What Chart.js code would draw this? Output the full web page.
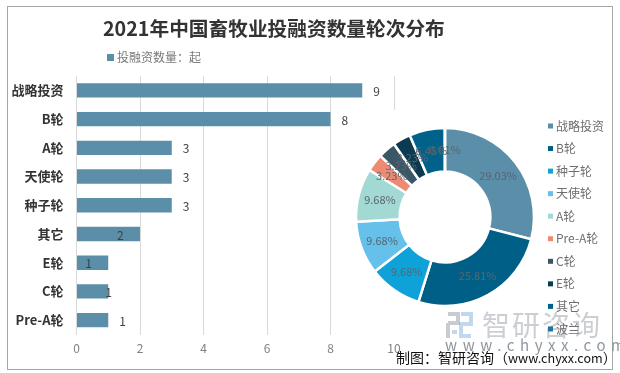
<!DOCTYPE html>
<html>
<head>
<meta charset="utf-8">
<script src="https://cdn.jsdelivr.net/npm/chart.js@4"></script>
<style>
  html, body { margin: 0; padding: 0; background: #fff; width: 620px; height: 373px; overflow: hidden; }
  .abs { position: absolute; white-space: nowrap; font-family: "Noto Sans CJK SC", "Noto Sans", sans-serif; }
  #frame { left: 7px; top: 6px; width: 604px; height: 362px; border: 1px solid #a6a6a6; }
  #title { left: 103px; top: 13px; font-size: 19.7px; line-height: 30px; font-weight: 700; color: #333; }
  #legendBox { left: 107px; top: 54px; width: 7px; height: 7px; background: #5b8ea8; }
  #legendText { left: 117px; top: 48px; font-size: 12px; line-height: 18px; color: #7a7a7a; }
  #barChart { left: 0; top: 0; }
  #pieWrap { position: absolute; left: 350px; top: 110px; width: 260px; height: 230px; background: #fff; }
  #wmText { left: 482px; top: 304px; font-size: 28px; line-height: 40px; letter-spacing: 2px; color: rgba(110,120,130,.36); }
  #wmAddr { left: 445px; top: 336px; font-size: 15px; line-height: 18px; letter-spacing: 5.6px; color: #8f979e; z-index: 5; }
  #wmLogo { position: absolute; left: 446px; top: 312px; }
  #source { left: 396px; top: 347px; font-size: 14px; line-height: 20px; color: #111; z-index: 6; }
  #source span { font-size: 12.6px; }
</style>
</head>
<body>
<canvas id="barChart" class="abs" width="620" height="373"></canvas>
<div id="pieWrap"><canvas id="pieChart" width="260" height="230"></canvas></div>
<div id="frame" class="abs"></div>
<div id="title" class="abs">2021年中国畜牧业投融资数量轮次分布</div>
<div id="legendBox" class="abs"></div>
<div id="legendText" class="abs">投融资数量：起</div>
<svg id="wmLogo" width="27" height="27" fill="none" stroke-width="4">
  <path d="M2 2H12V11H2M2 11V26" stroke="rgba(130,140,155,.45)"/>
  <path d="M15 2H25V12H15V24H25" stroke="rgba(120,170,215,.45)"/>
  <path d="M6 20H11" stroke="rgba(120,170,215,.45)"/>
</svg>
<div id="wmText" class="abs">智研咨询</div>
<div id="wmAddr" class="abs">www.chyxx.com</div>
<div id="source" class="abs">制图：智研咨询（<span>www.chyxx.com</span>）</div>

<script>
const barCategories = ["战略投资", "B轮", "A轮", "天使轮", "种子轮", "其它", "E轮", "C轮", "Pre-A轮"];
const barValues = [9, 8, 3, 3, 3, 2, 1, 1, 1];
const xTicks = [0, 2, 4, 6, 8, 10];

const pieCategories = ["战略投资", "B轮", "种子轮", "天使轮", "A轮", "Pre-A轮", "C轮", "E轮", "其它", "波兰"];
const pieValues = [9, 8, 3, 3, 3, 1, 1, 1, 2, 0.01];
const pieLabels = ["29.03%", "25.81%", "9.68%", "9.68%", "9.68%", "3.23%", "3.23%", "3.23%", "6.45%", "0.01%"];
const pieColors = ["#5b8ea8", "#005f86", "#0ea2d9", "#65c0ea", "#a3d9d3", "#ee8a72", "#3a5766", "#0a3b50", "#00628a", "#0b72a5"];

// the data labels in the picture are not all at the bar end, px from bar end
const barLabelShift = [11, 11, 11, 11, 11, -23, -23, -3, 11];

const uiFont = '"Noto Sans CJK SC", "Noto Sans", sans-serif';

const barLabelPlugin = {
  id: "barLabels",
  afterDatasetsDraw(chart) {
    const ctx = chart.ctx;
    ctx.save();
    ctx.font = "12px " + uiFont;
    ctx.fillStyle = "#404040";
    ctx.textBaseline = "middle";
    chart.getDatasetMeta(0).data.forEach((bar, i) => {
      ctx.fillText(barValues[i], bar.x + barLabelShift[i], bar.y + 1);
    });
    ctx.restore();
  }
};

new Chart(document.getElementById("barChart"), {
  type: "bar",
  data: {
    labels: barCategories,
    datasets: [{ data: barValues, backgroundColor: "#5b8ea8", barPercentage: 0.5, categoryPercentage: 1 }]
  },
  options: {
    indexAxis: "y",
    responsive: false,
    animation: false,
    layout: { padding: { top: 76, right: 226, left: 0, bottom: 0 } },
    plugins: { legend: { display: false }, tooltip: { enabled: false } },
    scales: {
      x: {
        min: 0,
        max: 10,
        afterBuildTicks: s => { s.ticks = xTicks.map(v => ({ value: v })); },
        afterFit: s => { s.height = 38.5; },
        border: { display: false },
        grid: { color: "#d9d9d9", drawTicks: false },
        ticks: { color: "#808080", padding: 7, font: { size: 12, family: uiFont } }
      },
      y: {
        afterFit: s => { s.width = 76.5; },
        border: { display: false },
        grid: { display: false },
        ticks: { color: "#333", padding: 5, font: { size: 13, weight: "bold", family: uiFont } }
      }
    }
  },
  plugins: [barLabelPlugin]
});

const pieTextPlugin = {
  id: "pieText",
  afterDatasetsDraw(chart) {
    const ctx = chart.ctx;
    ctx.save();
    // slice percentages
    ctx.font = "11px " + uiFont;
    ctx.fillStyle = "#5a6570";
    ctx.textAlign = "center";
    ctx.textBaseline = "middle";
    chart.getDatasetMeta(0).data.forEach((arc, i) => {
      const p = arc.tooltipPosition();
      ctx.fillText(pieLabels[i], p.x, p.y);
    });
    // legend column
    ctx.font = "12px " + uiFont;
    ctx.textAlign = "left";
    pieCategories.forEach((name, i) => {
      const y = 16 + i * 22.55;
      ctx.fillStyle = pieColors[i];
      ctx.fillRect(198, y - 2.5, 5, 5);
      ctx.fillStyle = "#6e6e6e";
      ctx.fillText(name, 206, y);
    });
    ctx.restore();
  }
};

new Chart(document.getElementById("pieChart"), {
  type: "doughnut",
  data: {
    labels: pieCategories,
    datasets: [{ data: pieValues, backgroundColor: pieColors, borderColor: "#fff", borderWidth: 2.5 }]
  },
  options: {
    responsive: false,
    animation: false,
    cutout: "51%",
    layout: { padding: { left: 4.75, right: 74.75, top: 10, bottom: 26 } },
    plugins: { legend: { display: false }, tooltip: { enabled: false } }
  },
  plugins: [pieTextPlugin]
});
</script>
</body>
</html>
